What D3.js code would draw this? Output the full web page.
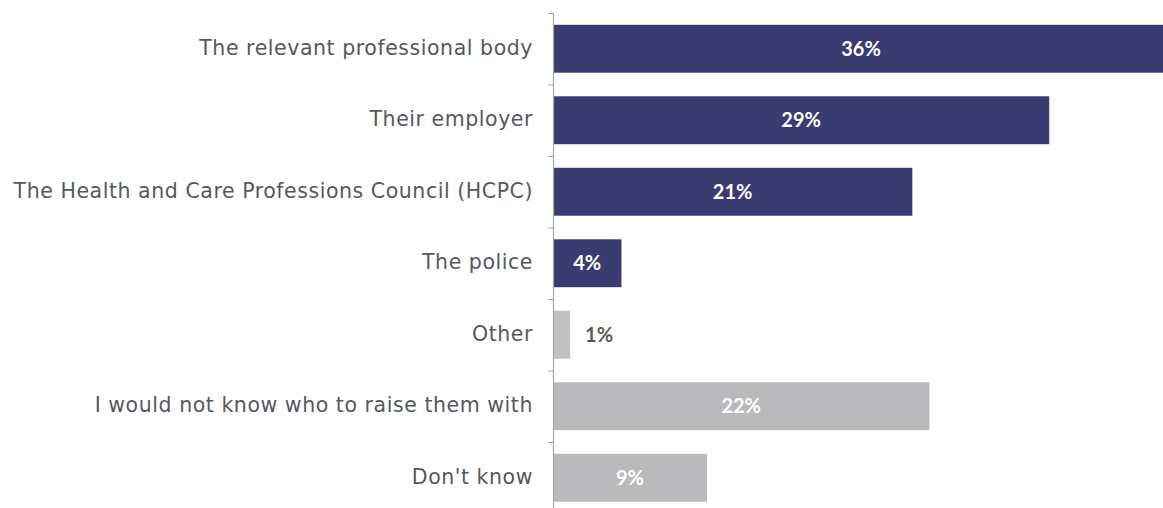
<!DOCTYPE html>
<html>
<head>
<meta charset="utf-8">
<script src="https://cdn.jsdelivr.net/npm/d3@7"></script>
<style>
  html, body { margin: 0; padding: 0; background: #fff; overflow: hidden; }
  svg { display: block; }
</style>
</head>
<body>
<div id="chart"></div>
<script>
const categories = [
  "The relevant professional body",
  "Their employer",
  "The Health and Care Professions Council (HCPC)",
  "The police",
  "Other",
  "I would not know who to raise them with",
  "Don't know"
];
const values = [36, 29, 21, 4, 1, 22, 9];
const barColors = ["#393c70", "#393c70", "#393c70", "#393c70", "#c1c1c1", "#b8bbbc", "#b8bbbc"];
const valueLabels = ["36%", "29%", "21%", "4%", "1%", "22%", "9%"];

const W = 1163, H = 508;
const marginLeft = 553, marginTop = 13;
const step = 71.5;

const svg = d3.select("#chart").append("svg").attr("width", W).attr("height", H);

const x = d3.scaleLinear().domain([0, 36]).range([0, 616]);
const y = d3.scaleBand().domain(categories).range([0, step * categories.length])
  .paddingInner(0.33).paddingOuter(0.165);

const g = svg.append("g").attr("transform", `translate(${marginLeft},${marginTop})`);

g.selectAll("rect.bar").data(categories).join("rect")
  .attr("class", "bar")
  .attr("x", 0)
  .attr("y", d => y(d))
  .attr("width", (d, i) => x(values[i]))
  .attr("height", y.bandwidth())
  .attr("fill", (d, i) => barColors[i]);

// axis
const axis = d3.axisLeft(y).tickSize(0).tickPadding(20);
const ax = g.append("g").call(axis);
ax.select(".domain").attr("stroke", "#a6a6a6").attr("stroke-width", 1.2)
  .attr("d", `M0.5,0V${H}`);
ax.selectAll(".tick text")
  .attr("fill", "#55595d")
  .attr("dy", "0.3em")
  .style("font-family", "'DejaVu Sans', sans-serif")
  .style("font-size", "20.5px")
  .style("letter-spacing", "0.55px");

// boundary tick marks
const bounds = d3.range(categories.length + 1).map(i => i * step);
g.selectAll("line.bt").data(bounds).join("line")
  .attr("class", "bt")
  .attr("x1", -5).attr("x2", 0.5)
  .attr("y1", d => d + 0.5).attr("y2", d => d + 0.5)
  .attr("stroke", "#a6a6a6").attr("stroke-width", 1);

// value labels
g.selectAll("text.val").data(categories).join("text")
  .attr("class", "val")
  .attr("x", (d, i) => values[i] < 2 ? x(values[i]) + 15 : x(values[i]) / 2)
  .attr("y", d => y(d) + y.bandwidth() / 2)
  .attr("dy", "0.36em")
  .attr("text-anchor", (d, i) => values[i] < 2 ? "start" : "middle")
  .attr("fill", (d, i) => values[i] < 2 ? "#595959" : "#ffffff")
  .style("font-family", "Lato, sans-serif")
  .style("font-weight", "700")
  .style("font-size", "20px")
  .text((d, i) => valueLabels[i]);
</script>
</body>
</html>
